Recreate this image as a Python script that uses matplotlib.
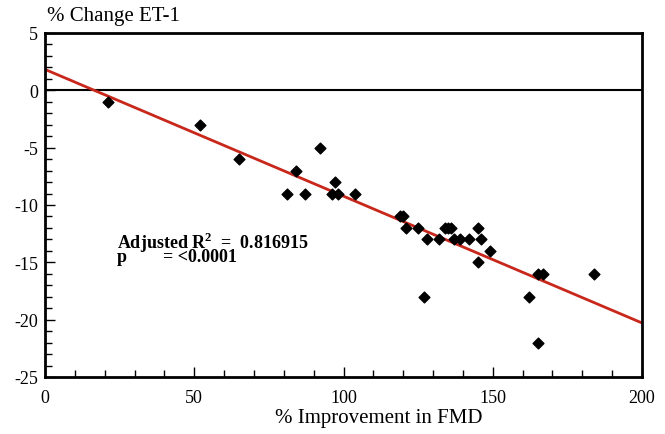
import matplotlib
matplotlib.use('Agg')
import matplotlib.pyplot as plt
import numpy as np
from matplotlib.ticker import MultipleLocator

plt.rcParams['font.family'] = 'Liberation Serif'
plt.rcParams['axes.unicode_minus'] = False
plt.rcParams['mathtext.fontset'] = 'custom'
plt.rcParams['mathtext.rm'] = 'Liberation Serif'
plt.rcParams['mathtext.bf'] = 'Liberation Serif:bold'

# data
fmd_improvement = [21, 52, 65, 81, 84, 87, 92, 96, 97, 98, 104,
                   119, 120, 121, 125, 127, 128, 132, 134, 135, 136,
                   137, 139, 142, 145, 145, 146, 149, 162, 165, 165, 167, 184]
et1_change = [-1, -3, -6, -9, -7, -9, -5, -9, -8, -9, -9,
              -11, -11, -12, -12, -18, -13, -13, -12, -12, -12,
              -13, -13, -13, -12, -15, -13, -14, -18, -16, -22, -16, -16]

slope, intercept = np.polyfit(fmd_improvement, et1_change, 1)

fig = plt.figure(figsize=(6.65, 4.35), dpi=100)
ax = fig.add_axes([45 / 665, 1 - 378 / 435, 597 / 665, 344 / 435])

ax.scatter(fmd_improvement, et1_change, marker='D', s=30, color='black', zorder=3)
xfit = np.array([0, 200])
ax.plot(xfit, intercept + slope * xfit, color='#c8281c', lw=2, zorder=2)
ax.axhline(0, color='black', lw=1.5, zorder=1)

ax.set_xlim(0, 200)
ax.set_ylim(-25, 5)
ax.xaxis.set_major_locator(MultipleLocator(50))
ax.xaxis.set_minor_locator(MultipleLocator(10))
ax.yaxis.set_major_locator(MultipleLocator(5))
ax.yaxis.set_minor_locator(MultipleLocator(1))
ax.tick_params(which='both', direction='in', labelsize=13, width=1)
ax.tick_params(which='major', length=7)
ax.tick_params(which='minor', length=5)
ax.tick_params(axis='x', pad=9)
ax.tick_params(axis='y', pad=5)
for s in ax.spines.values():
    s.set_linewidth(2)

fig.text(379 / 665, 1 - 419 / 435, '% Improvement in FMD', fontsize=15,
         ha='center', va='center')
fig.text(47 / 665, 1 - 17 / 435, '% Change ET-1', fontsize=15, va='center')

ax.text(24.0, -13.7, 'Adjusted R$^{\\mathbf{2}}$  =  0.816915\np        = <0.0001',
        fontsize=13, fontweight='bold', va='center', linespacing=0.6)

fig.savefig('out.png', dpi=100)
